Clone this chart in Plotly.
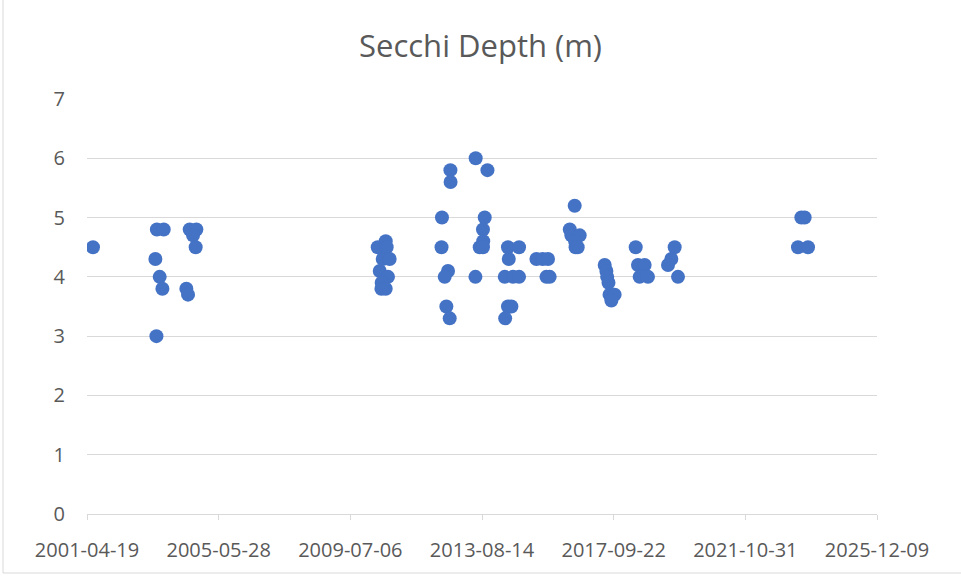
import plotly.graph_objects as go

# Secchi depth observations (date, depth in m)
dates = [
    "2001-06-26",
    "2003-06-07", "2003-06-19", "2003-06-24", "2003-09-10", "2003-07-26", "2003-08-26",
    "2004-05-25", "2004-06-13", "2004-07-02", "2004-09-16", "2004-08-09", "2004-09-08",
    "2010-05-14", "2010-08-13", "2010-08-24", "2010-07-10", "2010-09-27", "2010-06-06",
    "2010-09-08", "2010-06-28", "2010-06-25", "2010-08-13",
    "2012-05-15", "2012-05-10", "2012-08-19", "2012-08-21", "2012-07-23", "2012-06-15",
    "2012-07-04", "2012-08-11",
    "2013-06-03", "2013-10-15", "2013-05-31", "2013-09-14", "2013-08-25", "2013-08-28",
    "2013-07-19", "2013-08-25",
    "2014-06-06", "2014-10-10", "2014-06-15", "2014-04-30", "2014-08-02", "2014-10-10",
    "2014-06-06", "2014-07-15", "2014-05-05",
    "2015-04-26", "2015-07-06", "2015-09-05", "2015-08-18", "2015-09-24",
    "2016-07-05", "2016-05-10", "2016-05-28", "2016-08-31", "2016-07-10", "2016-07-15",
    "2016-08-08",
    "2017-06-12", "2017-07-01", "2017-07-10", "2017-07-25", "2017-08-06", "2017-10-03",
    "2017-08-27",
    "2018-05-31", "2018-06-26", "2018-09-10", "2018-07-15", "2018-10-18",
    "2019-08-18", "2019-07-11", "2019-06-03", "2019-09-25",
    "2023-07-31", "2023-09-07", "2023-06-23", "2023-10-15",
]
depths = [
    4.5,
    4.3, 3.0, 4.8, 4.8, 4.0, 3.8,
    3.8, 3.7, 4.8, 4.8, 4.7, 4.5,
    4.5, 4.6, 4.5, 4.3, 4.3, 4.1,
    4.0, 3.9, 3.8, 3.8,
    5.0, 4.5, 5.8, 5.6, 4.1, 4.0,
    3.5, 3.3,
    6.0, 5.8, 4.0, 5.0, 4.8, 4.6,
    4.5, 4.5,
    4.5, 4.5, 4.3, 4.0, 4.0, 4.0,
    3.5, 3.5, 3.3,
    4.3, 4.3, 4.3, 4.0, 4.0,
    5.2, 4.8, 4.7, 4.7, 4.6, 4.5,
    4.5,
    4.2, 4.1, 4.0, 3.9, 3.7, 3.7,
    3.6,
    4.5, 4.2, 4.2, 4.0, 4.0,
    4.5, 4.3, 4.2, 4.0,
    5.0, 5.0, 4.5, 4.5,
]

title_text = "Secchi Depth (m)"
x_start = "2001-04-19"
x_end = "2025-12-09"
tick_step_days = 1500
y_ticks = [0, 1, 2, 3, 4, 5, 6, 7]

grid_col = "#D9D9D9"
text_col = "#595959"
font_family = "Open Sans, Liberation Sans, sans-serif"

fig = go.Figure()
fig.add_trace(go.Scatter(
    x=dates, y=depths, mode="markers",
    marker=dict(size=14, color="#4472C4", line=dict(width=0)),
    showlegend=False,
))

W, H = 961, 577
l, r, t, b = 87, 84, 99, 63
pw, ph = W - l - r, H - t - b

def px2paper_x(px):
    return (px - l) / pw

def px2paper_y(py):
    return (H - b - py) / ph

fig.update_layout(
    width=W, height=H,
    margin=dict(l=l, r=r, t=t, b=b),
    paper_bgcolor="white", plot_bgcolor="white",
    title=dict(text=title_text, x=0.5, xanchor="center", y=1 - 46 / H, yanchor="middle",
               font=dict(family=font_family, size=31, color=text_col)),
    xaxis=dict(
        type="date", range=[x_start, x_end],
        tick0=x_start, dtick=tick_step_days * 86400000, tickformat="%Y-%m-%d",
        showgrid=False, zeroline=False,
        showline=True, linecolor=grid_col, linewidth=1,
        ticks="outside", ticklen=5, tickcolor=grid_col, tickwidth=1,
        tickfont=dict(family=font_family, size=20, color=text_col),
        ticklabelstandoff=13,
    ),
    yaxis=dict(
        range=[0, 7], tickvals=y_ticks,
        showgrid=True, gridcolor=grid_col, gridwidth=1,
        zeroline=False, showline=False, ticks="",
        tickfont=dict(family=font_family, size=20, color=text_col),
        ticklabelstandoff=21,
    ),
    shapes=[
        dict(type="line", xref="paper", yref="paper",
             x0=px2paper_x(3), x1=px2paper_x(3), y0=px2paper_y(-2), y1=px2paper_y(573),
             line=dict(color=grid_col, width=1)),
        dict(type="line", xref="paper", yref="paper",
             x0=px2paper_x(3), x1=px2paper_x(961), y0=px2paper_y(573), y1=px2paper_y(573),
             line=dict(color=grid_col, width=1)),
    ],
)

fig.write_html(
    "out.html",
    config={"displayModeBar": False},
    post_script="document.body.style.margin='0';document.body.style.overflow='hidden';",
)
